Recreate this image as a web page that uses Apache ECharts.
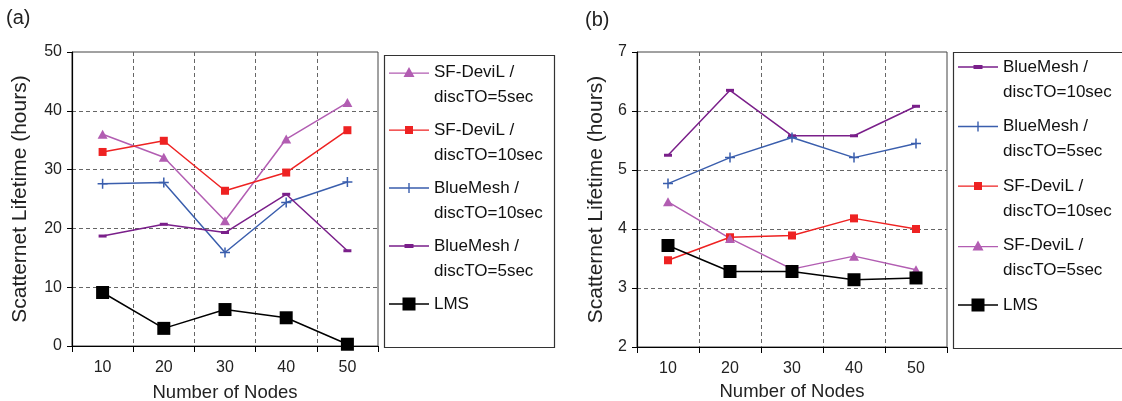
<!DOCTYPE html>
<html>
<head>
<meta charset="utf-8">
<script src="https://cdn.jsdelivr.net/npm/echarts@6/dist/echarts.min.js"></script>
<style>
html,body{margin:0;padding:0;background:#fff;}
#chart{width:1122px;height:401px;}
</style>
</head>
<body>
<div id="chart"></div>
<script>
// ---- data ----
var nodes = ['10', '20', '30', '40', '50'];

// panel (a)
var a_sfDevil5 = [36.0, 32.1, 21.3, 35.2, 41.4];
var a_sfDevil10 = [33.0, 34.9, 26.4, 29.5, 36.7];
var a_blueMesh10 = [27.6, 27.8, 15.9, 24.4, 27.9];
var a_blueMesh5 = [18.7, 20.7, 19.3, 25.8, 16.2];
var a_lms = [9.1, 3.0, 6.2, 4.8, 0.3];

// panel (b)
var b_blueMesh10 = [5.25, 6.35, 5.58, 5.58, 6.08];
var b_blueMesh5 = [4.77, 5.21, 5.55, 5.21, 5.45];
var b_sfDevil10 = [3.47, 3.86, 3.89, 4.18, 4.00];
var b_sfDevil5 = [4.46, 3.84, 3.32, 3.54, 3.31];
var b_lms = [3.72, 3.28, 3.28, 3.14, 3.17];

var labelsA = ['SF-DeviL /\ndiscTO=5sec', 'SF-DeviL /\ndiscTO=10sec', 'BlueMesh /\ndiscTO=10sec', 'BlueMesh /\ndiscTO=5sec', 'LMS'];
var labelsB = ['BlueMesh /\ndiscTO=10sec', 'BlueMesh /\ndiscTO=5sec', 'SF-DeviL /\ndiscTO=10sec', 'SF-DeviL /\ndiscTO=5sec', 'LMS'];

// ---- styles ----
var FONT = 'Liberation Sans, Arial, sans-serif';
var C_TRI = '#b25db2', C_RED = '#ee2222', C_BLUE = '#3a5ead', C_PURP = '#7a1f8a', C_BLK = '#000000';

var SYM = {
  tri: {symbol: 'triangle', size: [10, 9]},
  sq: {symbol: 'rect', size: 8},
  plus: {symbol: 'path://M4.25,0h1.5v10h-1.5z M0,4.25h10v1.5h-10z', size: 10},
  dash: {symbol: 'rect', size: [8, 3]},
  big: {symbol: 'rect', size: 13}
};
var ICON = {
  tri: 'path://M0,5.4h40v1.3h-40z M20,0L25.5,10L14.5,10z',
  sq: 'path://M0,3.4h40v1.3h-40z M16,0h8v8h-8z',
  plus: 'path://M0,4.35h40v1.3h-40z M19.3,0h1.4v10h-1.4z',
  dash: 'path://M0,1.85h40v1.3h-40z M15.5,0.5h9v4h-9z',
  big: 'path://M0,5.85h40v1.3h-40z M13.5,0h13v13h-13z'
};

function mkSeries(id, data, color, sym, gi, z) {
  return {
    name: id, type: 'line', data: data,
    xAxisIndex: gi, yAxisIndex: gi,
    symbol: SYM[sym].symbol, symbolSize: SYM[sym].size,
    showAllSymbol: true, z: z || 2,
    lineStyle: {color: color, width: 1.5},
    itemStyle: {color: color, borderWidth: 0},
    emphasis: {disabled: true},
    animation: false
  };
}

var LH = 25;
function mkLegend(prefix, labels, syms, left, top, gap) {
  return {
    orient: 'vertical', left: left, top: top, padding: 0,
    itemWidth: 40, itemHeight: 14, itemGap: gap,
    symbolKeepAspect: true, selectedMode: false,
    textStyle: {fontFamily: FONT, fontSize: 17, color: '#111', lineHeight: LH},
    formatter: function (id) {
      var t = labels[+id.slice(1)];
      // first text line sits level with the icon
      return t.indexOf('\n') < 0 ? '\n' + t + '\n' : '\n' + t;
    },
    data: labels.map(function (n, i) {
      return {name: prefix + i, icon: ICON[syms[i]], itemStyle: {borderWidth: 0}};
    })
  };
}

function mkX(gi, nameGap) {
  return {
    type: 'category', gridIndex: gi, data: nodes, boundaryGap: true,
    name: 'Number of Nodes', nameLocation: 'middle', nameGap: nameGap,
    nameTextStyle: {fontFamily: FONT, fontSize: 18.5, color: '#222'},
    axisLine: {show: true, lineStyle: {color: '#000', width: 1.2}},
    axisTick: {show: true, length: 6, lineStyle: {color: '#000'}},
    axisLabel: {fontFamily: FONT, fontSize: 16, color: '#222', margin: 14},
    splitLine: {show: true, showMinLine: false, showMaxLine: false, lineStyle: {color: '#666', type: [4, 3], width: 1}}
  };
}
function mkY(gi, min, max, interval, nameGap) {
  return {
    type: 'value', gridIndex: gi, min: min, max: max, interval: interval,
    name: 'Scatternet Lifetime (hours)', nameLocation: 'middle', nameGap: nameGap,
    nameTextStyle: {fontFamily: FONT, fontSize: 21, color: '#222'},
    axisLine: {show: true, lineStyle: {color: '#000', width: 1.2}},
    axisTick: {show: true, length: 5, lineStyle: {color: '#000'}},
    axisLabel: {fontFamily: FONT, fontSize: 16, color: '#222', margin: 10},
    splitLine: {show: true, showMinLine: false, showMaxLine: false, lineStyle: {color: '#666', type: [4, 3], width: 1}}
  };
}

var symsA = ['tri', 'sq', 'plus', 'dash', 'big'];
var symsB = ['dash', 'plus', 'sq', 'tri', 'big'];
var colsA = [C_TRI, C_RED, C_BLUE, C_PURP, C_BLK];
var colsB = [C_PURP, C_BLUE, C_RED, C_TRI, C_BLK];
var dataA = [a_sfDevil5, a_sfDevil10, a_blueMesh10, a_blueMesh5, a_lms];
var dataB = [b_blueMesh10, b_blueMesh5, b_sfDevil10, b_sfDevil5, b_lms];

var series = [];
labelsA.forEach(function (n, i) { series.push(mkSeries('a' + i, dataA[i], colsA[i], symsA[i], 0, i === 4 ? 3 : 2)); });
labelsB.forEach(function (n, i) { series.push(mkSeries('b' + i, dataB[i], colsB[i], symsB[i], 1, i === 4 ? 3 : 2)); });

var chart = echarts.init(document.getElementById('chart'), null, {renderer: 'canvas'});
chart.setOption({
  animation: false,
  backgroundColor: '#fff',
  title: [
    {text: '(a)', left: 6, top: 8, padding: 0, textStyle: {fontFamily: FONT, fontSize: 20, fontWeight: 'normal', color: '#222'}},
    {text: '(b)', left: 585, top: 10, padding: 0, textStyle: {fontFamily: FONT, fontSize: 20, fontWeight: 'normal', color: '#222'}}
  ],
  grid: [
    {left: 72, top: 52, width: 306, height: 294, show: true, borderColor: '#444', borderWidth: 1, backgroundColor: 'transparent', containLabel: false, outerBoundsMode: 'none'},
    {left: 637, top: 52, width: 310, height: 295, show: true, borderColor: '#444', borderWidth: 1, backgroundColor: 'transparent', containLabel: false, outerBoundsMode: 'none'}
  ],
  xAxis: [mkX(0, 37), mkX(1, 35)],
  yAxis: [mkY(0, 0, 50, 10, 41), mkY(1, 2, 7, 1, 30)],
  legend: [
    mkLegend('a', labelsA, symsA, 389, 72 - 1.5 * LH, 58 - 3 * LH),
    mkLegend('b', labelsB, symsB, 958, 67 - 1.5 * LH, 59.5 - 3 * LH)
  ],
  graphic: [
    {type: 'rect', shape: {x: 384.5, y: 55.5, width: 170, height: 292}, style: {fill: 'none', stroke: '#333', lineWidth: 1.2}, silent: true},
    {type: 'rect', shape: {x: 953.5, y: 52.5, width: 180, height: 296}, style: {fill: 'none', stroke: '#333', lineWidth: 1.2}, silent: true}
  ],
  series: series
});
</script>
</body>
</html>
